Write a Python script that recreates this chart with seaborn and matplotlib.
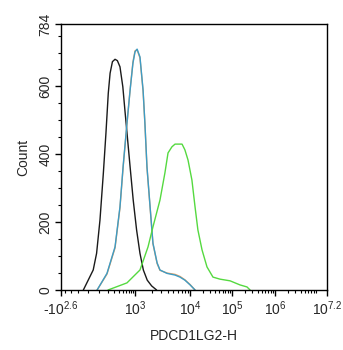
import numpy as np
import pandas as pd
import matplotlib
matplotlib.use("Agg")
import matplotlib.pyplot as plt
import seaborn as sns

# ---- data (display channel 0-1024, counts) ----
black_ch = [86, 124, 137, 150, 163, 173, 182, 189, 198, 208, 217, 227, 238, 246, 253, 266, 278, 291, 304, 317, 332, 349, 368]
black_ct = [0, 59, 108, 206, 344, 462, 580, 639, 673, 680, 676, 658, 599, 530, 472, 363, 265, 177, 108, 59, 29, 12, 0]

blue_ch = [139, 177, 208, 227, 239, 254, 266, 277, 285, 293, 304, 316, 323, 331, 343, 354, 370, 381, 408, 439, 458, 477, 497, 516]
blue_ct = [0, 49, 127, 245, 363, 492, 589, 669, 702, 710, 687, 589, 492, 363, 245, 138, 80, 59, 49, 44, 38, 29, 15, 0]

orange_ch = [139, 177, 208, 227, 239, 254, 266, 277, 285, 293, 304, 316, 323, 331, 343, 354, 370, 381, 408, 439, 458, 477, 497, 516]
orange_ct = [0, 47, 124, 242, 360, 490, 590, 672, 705, 708, 684, 586, 490, 360, 243, 136, 78, 58, 50, 46, 40, 30, 16, 0]

green_ch = [181, 254, 304, 335, 354, 381, 400, 412, 427, 439, 466, 477, 489, 504, 516, 527, 543, 562, 585, 612, 651, 689, 716, 728]
green_ct = [0, 21, 59, 127, 186, 265, 345, 404, 422, 430, 430, 413, 383, 324, 245, 177, 118, 68, 38, 32, 27, 15, 9, 0]

tick_labels = [r"-10$^{2.6}$", r"10$^{3}$", r"10$^{4}$", r"10$^{5}$", r"10$^{6}$", r"10$^{7.2}$"]
tick_values = [-10**2.6, 1e3, 1e4, 1e5, 1e6, 10**7.2]
y_ticks = [0, 200, 400, 600, 784]

# display transform anchors (value -> channel)
anchor_vals = np.array([-10**2.6, 0, 1e3, 1e4, 1e5, 1e6, 1e7, 10**7.2])
anchor_ch = np.array([0, 104, 285, 497, 658, 824, 989, 1024])

def to_channel(v):
    s = np.arcsinh(np.asarray(v, dtype=float) / 150.0)
    return np.interp(s, np.arcsinh(anchor_vals / 150.0), anchor_ch)

sns.set_theme(style="ticks")
plt.rcParams["font.family"] = ["Liberation Sans", "DejaVu Sans"]
plt.rcParams["mathtext.fontset"] = "custom"
plt.rcParams["mathtext.rm"] = "Liberation Sans"
plt.rcParams["mathtext.it"] = "Liberation Sans"
plt.rcParams["mathtext.bf"] = "Liberation Sans"
plt.rcParams["axes.unicode_minus"] = False

frames = []
for name, xs, ys in [("black", black_ch, black_ct), ("orange", orange_ch, orange_ct),
                     ("blue", blue_ch, blue_ct), ("green", green_ch, green_ct)]:
    frames.append(pd.DataFrame({"ch": xs, "count": ys, "series": name}))
df = pd.concat(frames, ignore_index=True)

palette = {"black": "#1a1a1a", "orange": "#e8a060", "blue": "#3d9cc6", "green": "#55d940"}

fig = plt.figure(figsize=(3.43, 3.5), dpi=100)
ax = fig.add_axes([61/343, 1-290/350, 266/343, 266/350])

sns.lineplot(data=df, x="ch", y="count", hue="series", palette=palette,
             estimator=None, sort=False, legend=False, linewidth=1.0, ax=ax)

ax.set_xlim(0, 1024)
ax.set_ylim(0, 784)

ax.set_xticks(to_channel(tick_values))
ax.set_xticklabels(tick_labels, fontsize=10)
minor_vals = [-300, -200, -100, 0, 100, 200, 300, 400, 500, 600, 700, 800, 900]
for d in range(3, 7):
    minor_vals += [k * 10**d for k in range(2, 10)]
ax.set_xticks(to_channel(minor_vals), minor=True)

ax.set_yticks(y_ticks)
ax.set_yticklabels([str(v) for v in y_ticks], fontsize=10, rotation=90, va="center")
ax.set_yticks(np.arange(50, 784, 50), minor=True)

ax.tick_params(axis="both", which="major", length=4, width=1, color="black", pad=2)
ax.tick_params(axis="both", which="minor", length=2, width=0.8, color="black")
ax.tick_params(axis="x", which="major", pad=3)

for s in ax.spines.values():
    s.set_color("black")
    s.set_linewidth(1.0)

ax.set_xlabel("PDCD1LG2-H", fontsize=10, labelpad=8)
ax.set_ylabel("Count", fontsize=10, labelpad=6)

fig.savefig("out.png", dpi=100)
